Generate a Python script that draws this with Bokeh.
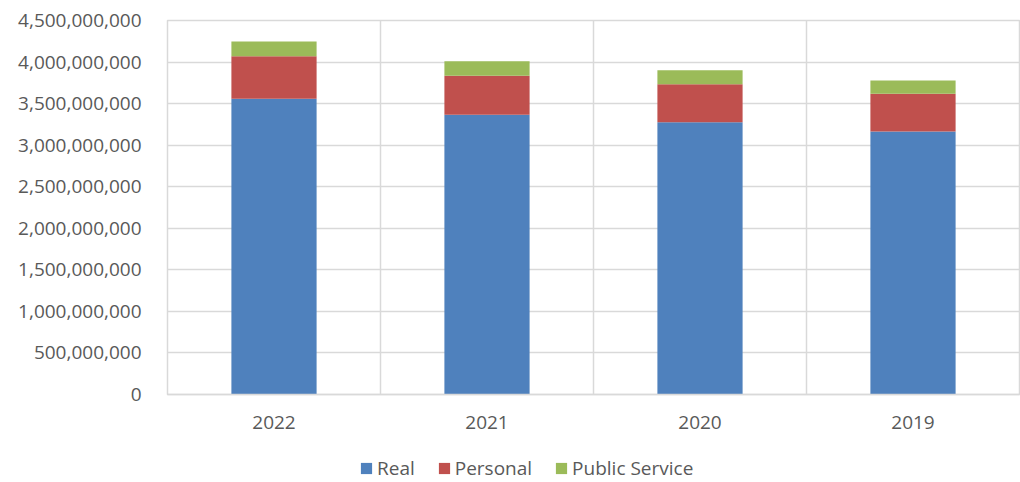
from bokeh.plotting import figure
from bokeh.layouts import column
from bokeh.models import ColumnDataSource, FixedTicker, NumeralTickFormatter, Legend, LegendItem
from bokeh.embed import file_html
from bokeh.resources import INLINE

years = ["2022", "2021", "2020", "2019"]
real = [3558000000, 3365000000, 3276000000, 3164000000]
personal = [512000000, 470000000, 458000000, 454000000]
public_service = [177000000, 175000000, 168000000, 160000000]
y_ticks = [0, 500000000, 1000000000, 1500000000, 2000000000, 2500000000,
           3000000000, 3500000000, 4000000000, 4500000000]

series = ["Real", "Personal", "Public Service"]
colors = ["#4F81BD", "#C0504D", "#9BBB59"]

xs = [i + 0.5 for i in range(len(years))]
src = ColumnDataSource(dict(x=xs, Real=real, Personal=personal, PublicService=public_service))

FONT = "Open Sans"
GRAY = "#595959"
GRID = "#D9D9D9"

p = figure(width=1020, height=446, x_range=(0, len(years)), y_range=(0, 4500000000),
           output_backend="svg", toolbar_location=None,
           min_border_left=167, min_border_right=1, min_border_top=20, min_border_bottom=52)

rs = p.vbar_stack(["Real", "Personal", "PublicService"], x="x", width=0.4, source=src,
                  color=colors, line_color=None)

p.outline_line_color = GRID
p.outline_line_width = 1.5

p.xaxis.ticker = FixedTicker(ticks=xs)
p.xaxis.major_label_overrides = {x: y for x, y in zip(xs, years)}
p.xgrid.ticker = FixedTicker(ticks=list(range(len(years) + 1)))
p.xgrid.grid_line_color = GRID
p.xgrid.grid_line_width = 1.5
p.ygrid.grid_line_color = GRID
p.ygrid.grid_line_width = 1.5

p.yaxis.ticker = FixedTicker(ticks=y_ticks)
p.yaxis.formatter = NumeralTickFormatter(format="0,0")

for ax in (p.xaxis[0], p.yaxis[0]):
    ax.major_tick_line_color = None
    ax.minor_tick_line_color = None
    ax.major_label_text_font = FONT
    ax.major_label_text_font_size = "19px"
    ax.major_label_text_color = GRAY
p.xaxis.axis_line_color = GRID
p.xaxis.axis_line_width = 1.5
p.yaxis.axis_line_color = None
p.yaxis.major_label_standoff = 20
p.xaxis.major_label_standoff = 15

# legend strip below the chart (its key glyphs sit outside the strip's visible range)
lg = figure(width=1020, height=36, output_backend="svg", toolbar_location=None,
            x_range=(0, 1), y_range=(0, 1),
            x_axis_location=None, y_axis_location=None,
            min_border_left=0, min_border_right=0, min_border_top=0, min_border_bottom=0)
lg.outline_line_color = None
lg.grid.visible = False
key_src = ColumnDataSource(dict(x=[-10], top=[0]))
lrs = [lg.vbar(x="x", top="top", width=0.1, source=key_src, color=c, line_color=None) for c in colors]

legend = Legend(items=[LegendItem(label=s, renderers=[r]) for s, r in zip(series, lrs)],
                orientation="horizontal", location=(192, 1),
                label_text_font=FONT, label_text_font_size="19px", label_text_color=GRAY,
                glyph_width=14, glyph_height=14, label_standoff=4, spacing=22,
                padding=0, margin=0, border_line_color=None, background_fill_alpha=0)
lg.add_layout(legend, "center")

layout = column(p, lg, spacing=0)
open("out.html", "w").write(file_html(layout, INLINE))
